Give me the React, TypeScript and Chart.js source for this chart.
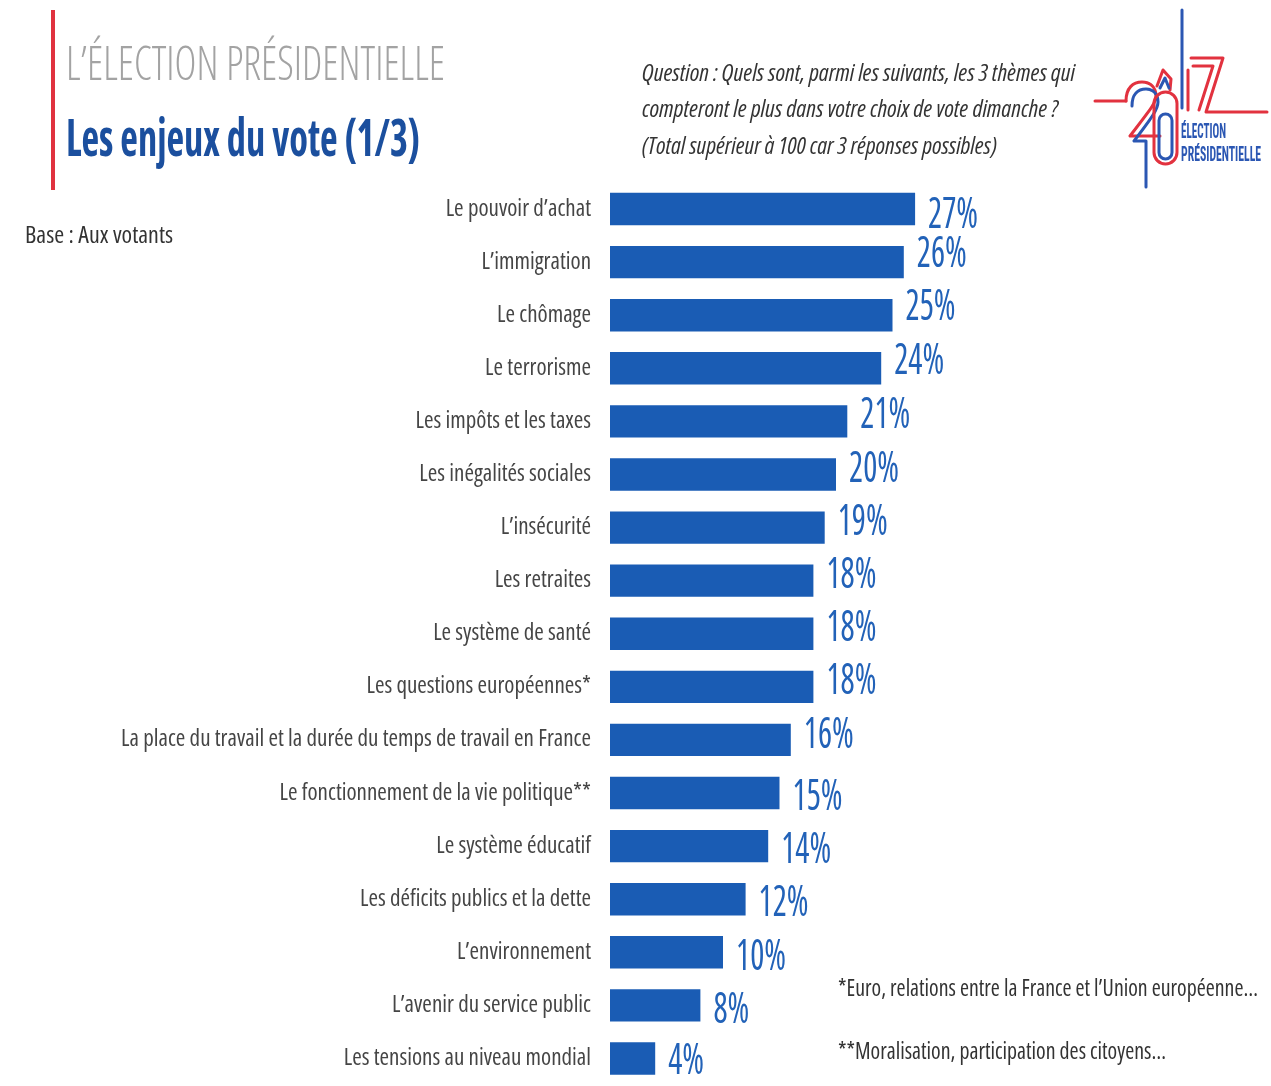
import React, { useEffect, useLayoutEffect, useRef } from "react";
import { Chart, registerables } from "chart.js";

Chart.register(...registerables);

const categories = [
  "Le pouvoir d’achat",
  "L’immigration",
  "Le chômage",
  "Le terrorisme",
  "Les impôts et les taxes",
  "Les inégalités sociales",
  "L’insécurité",
  "Les retraites",
  "Le système de santé",
  "Les questions européennes*",
  "La place du travail et la durée du temps de travail en France",
  "Le fonctionnement de la vie politique**",
  "Le système éducatif",
  "Les déficits publics et la dette",
  "L’environnement",
  "L’avenir du service public",
  "Les tensions au niveau mondial",
];
const values = [27, 26, 25, 24, 21, 20, 19, 18, 18, 18, 16, 15, 14, 12, 10, 8, 4];

// Small vertical nudges of the value labels, as placed in the original slide (px).
const labelNudges = [6, -8, -8, -8, -7, -6, -6, -6, -6, -6, -5, 4, 4, 4, 4, 4, 2];

const FAMILY = '"Open Sans", "Roboto Condensed", sans-serif';
const BLUE = "#1a5cb4";
const LABEL_BLUE = "#2262b8";

const valueLabels = {
  id: "valueLabels",
  afterDatasetsDraw(chart: any) {
    const ctx = chart.ctx;
    const meta = chart.getDatasetMeta(0);
    ctx.save();
    ctx.font = `condensed 43px ${FAMILY}`;
    try { (ctx as any).fontStretch = "condensed"; } catch (e) {}
    const sx = 50 / ctx.measureText("27%").width;
    ctx.fillStyle = LABEL_BLUE;
    ctx.textAlign = "left";
    ctx.textBaseline = "middle";
    meta.data.forEach((bar: any, i: number) => {
      ctx.save();
      ctx.translate(bar.x + 13, bar.y + 1 + labelNudges[i]);
      ctx.scale(sx, 1);
      ctx.fillText(values[i] + "%", 0, 0);
      ctx.restore();
    });
    ctx.restore();
  },
};

function FitText(props: {
  left: number; top: number; width: number; size: number; color: string;
  weight?: number; italic?: boolean; text: string;
}) {
  const ref = useRef<HTMLDivElement>(null);
  useLayoutEffect(() => {
    const el = ref.current;
    if (!el) return;
    el.style.transform = "none";
    const w = el.getBoundingClientRect().width;
    if (w > 0) el.style.transform = `scaleX(${props.width / w})`;
  });
  return (
    <div
      ref={ref}
      style={{
        position: "absolute",
        left: props.left,
        top: props.top,
        fontFamily: FAMILY,
        fontStretch: "condensed",
        fontSize: props.size,
        lineHeight: 1,
        fontWeight: props.weight ?? 400,
        fontStyle: props.italic ? "italic" : "normal",
        color: props.color,
        whiteSpace: "nowrap",
        transformOrigin: "0 0",
        display: "inline-block",
      }}
    >
      {props.text}
    </div>
  );
}

export default function App() {
  const ref = useRef<HTMLCanvasElement>(null);
  useEffect(() => {
    if (!ref.current) return;
    const chart = new Chart(ref.current, {
      type: "bar",
      data: {
        labels: categories,
        datasets: [
          {
            data: values,
            backgroundColor: BLUE,
            borderWidth: 0,
            barPercentage: 0.61,
            categoryPercentage: 1,
          },
        ],
      },
      options: {
        indexAxis: "y",
        animation: false,
        responsive: false,
        devicePixelRatio: 1,
        layout: { padding: { left: 0, right: 322, top: 182.5, bottom: 115 } },
        plugins: { legend: { display: false }, tooltip: { enabled: false } },
        scales: {
          x: { display: false, min: 0, max: 30 },
          y: {
            grid: { display: false, drawTicks: false },
            border: { display: false },
            ticks: {
              padding: 19,
              color: "#454545",
              font: { family: FAMILY, size: 23, weight: "condensed" as any },
            },
            afterFit: (scale: any) => {
              scale.width = 610;
            },
          },
        },
      },
      plugins: [valueLabels],
    });
    return () => chart.destroy();
  }, []);

  return (
    <div style={{ position: "absolute", left: 0, top: 0, width: 1271, height: 1086, background: "#fff", overflow: "hidden" }}>
      <canvas ref={ref} width={1271} height={1200} style={{ position: "absolute", left: 0, top: 0 }} />
      <div style={{ position: "absolute", left: 51, top: 10, width: 4, height: 180, background: "#e0323f" }} />
      <FitText left={66} top={38} width={379} size={48} weight={300} color="#a3a3a3" text="L’ÉLECTION PRÉSIDENTIELLE" />
      <FitText left={66} top={111} width={354} size={51} weight={700} color="#1b4f9e" text="Les enjeux du vote (1/3)" />
      <FitText left={25} top={223} width={148} size={23} color="#333333" text="Base :  Aux votants" />
      <FitText left={642} top={60} width={433} size={24} italic color="#333333" text="Question : Quels sont, parmi les suivants, les 3 thèmes qui" />
      <FitText left={642} top={96} width={416} size={24} italic color="#333333" text="compteront le plus dans votre choix de vote dimanche ?" />
      <FitText left={642} top={133} width={355} size={24} italic color="#333333" text="(Total supérieur à 100 car 3 réponses possibles)" />
      <FitText left={838} top={976} width={420} size={23} color="#333333" text="*Euro, relations entre la France et l’Union européenne…" />
      <FitText left={838} top={1039} width={328} size={23} color="#333333" text="**Moralisation, participation des citoyens…" />
      <svg style={{ position: "absolute", left: 0, top: 0 }} width={1271} height={200}>
        <g fill="none" strokeWidth={3} strokeLinejoin="round" strokeLinecap="round">
          <line x1={1182} y1={10} x2={1182} y2={108} stroke="#2b57b3" />
          <line x1={1095} y1={101} x2={1126} y2={101} stroke="#e2323f" />
          <path d="M1126,101 C1126,88 1133,82 1142,82 C1151,82 1156,88 1156,96 C1156,103 1150,110 1130,136 L1160,136" stroke="#e2323f" />
          <path d="M1132,106 C1132,94 1138,89 1146,89 C1154,89 1158,95 1158,102 C1158,109 1153,116 1134,141 L1146,141 L1146,187" stroke="#2b57b3" />
          <rect x={1154} y={92} width={23} height={72} rx={11.5} stroke="#e2323f" />
          <rect x={1159} y={114} width={13} height={45} rx={6.5} stroke="#2b57b3" />
          <path d="M1157,86 L1163,70 L1171,79 L1170,90" stroke="#e2323f" />
          <path d="M1160,88 L1165,78 L1169,88" stroke="#2b57b3" />
          <line x1={1188} y1={70} x2={1188} y2={110} stroke="#e2323f" />
          <path d="M1193,66 L1213,66 L1199,110" stroke="#e2323f" />
          <path d="M1191,58 L1223,58 L1206,112 L1267,112" stroke="#e2323f" />
        </g>
        <text x={1181} y={138} fontFamily='"Roboto Condensed", sans-serif' fontWeight={700} fontSize={21} textLength={45} lengthAdjust="spacingAndGlyphs" fill="#2b57b3">ÉLECTION</text>
        <text x={1181} y={161} fontFamily='"Roboto Condensed", sans-serif' fontWeight={700} fontSize={21} textLength={80} lengthAdjust="spacingAndGlyphs" fill="#2b57b3">PRÉSIDENTIELLE</text>
      </svg>
    </div>
  );
}
